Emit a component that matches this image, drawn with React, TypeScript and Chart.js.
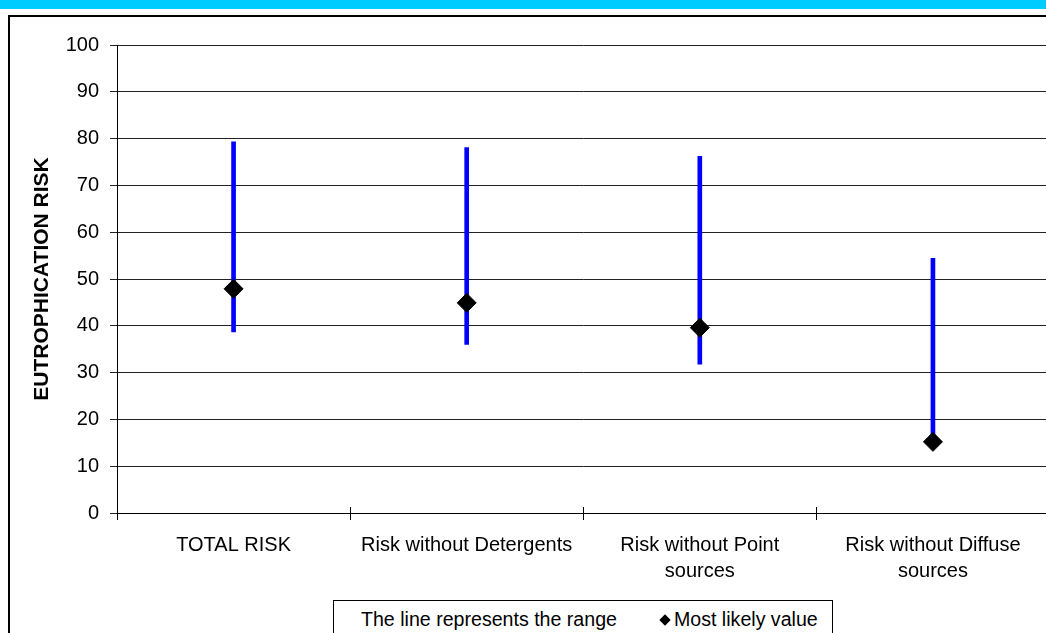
import React, { useEffect, useRef } from "react";
import { Chart, registerables } from "chart.js";

Chart.register(...registerables);

const categories: string[][] = [
  ["TOTAL RISK"],
  ["Risk without Detergents"],
  ["Risk without Point", "sources"],
  ["Risk without Diffuse", "sources"],
];
const rangeLow = [38.7, 36.0, 31.8, 15.2];
const rangeHigh = [79.3, 78.1, 76.2, 54.4];
const mostLikely = [47.9, 44.9, 39.6, 15.2];
const yTicks = [0, 10, 20, 30, 40, 50, 60, 70, 80, 90, 100];
const legendLabels = ["The line represents the range", "Most likely value"];

const FONT = "Arial, 'Liberation Sans', sans-serif";

const innerTicks = {
  id: "innerTicks",
  afterDraw(chart: any) {
    const x = chart.scales.x;
    const ctx = chart.ctx;
    const n = categories.length;
    ctx.save();
    ctx.strokeStyle = "#000";
    ctx.lineWidth = 1;
    for (let i = 0; i <= n; i++) {
      const px = Math.round(x.left + (i * x.width) / n) + 0.5;
      ctx.beginPath();
      ctx.moveTo(px, x.top - 6);
      ctx.lineTo(px, x.top);
      ctx.stroke();
    }
    ctx.restore();
  },
};

export default function App() {
  const ref = useRef<HTMLCanvasElement | null>(null);
  useEffect(() => {
    if (!ref.current) return;
    const chart = new Chart(ref.current, {
      data: {
        labels: categories,
        datasets: [
          {
            type: "line",
            label: legendLabels[1],
            data: mostLikely,
            showLine: false,
            pointStyle: "rectRot",
            pointRadius: 9.5,
            pointBackgroundColor: "#000",
            pointBorderColor: "#000",
            pointBorderWidth: 1,
            order: 1,
          } as any,
          {
            type: "bar",
            label: legendLabels[0],
            data: rangeLow.map((l, i) => [l, rangeHigh[i]]),
            backgroundColor: "#0000FF",
            borderWidth: 0,
            barThickness: 4,
            order: 2,
          } as any,
        ],
      },
      options: {
        animation: false,
        responsive: false,
        devicePixelRatio: 1,
        layout: { padding: { left: 26, top: 45, right: 10, bottom: 0 } },
        plugins: { legend: { display: false }, tooltip: { enabled: false } },
        scales: {
          x: {
            offset: true,
            grid: {
              offset: true,
              drawOnChartArea: false,
              drawTicks: true,
              tickLength: 7,
              color: "#000",
            },
            border: { display: true, color: "#000", width: 1 },
            ticks: {
              color: "#000",
              font: { family: FONT, size: 20, lineHeight: 1.3 },
              padding: 12,
              maxRotation: 0,
              autoSkip: false,
            },
            afterFit: (s: any) => {
              s.height = 120;
            },
          },
          y: {
            min: 0,
            max: 100,
            afterBuildTicks: (s: any) => {
              s.ticks = yTicks.map((v) => ({ value: v }));
            },
            grid: { color: "#222", tickLength: 7, drawTicks: true },
            border: { display: true, color: "#000", width: 1 },
            ticks: {
              color: "#000",
              font: { family: FONT, size: 20 },
              padding: 11,
            },
            title: {
              display: true,
              text: "EUTROPHICATION RISK",
              color: "#000",
              font: { family: FONT, size: 21, weight: "bold" },
              padding: { top: 4, bottom: 4 },
            },
            afterFit: (s: any) => {
              s.width = 91;
            },
          },
        },
      },
      plugins: [innerTicks],
    });
    return () => chart.destroy();
  }, []);

  return (
    <div
      style={{
        position: "fixed",
        left: 0,
        top: 0,
        width: 1046,
        height: 633,
        overflow: "hidden",
        background: "#fff",
      }}
    >
      <div
        style={{
          position: "absolute",
          left: 0,
          top: 0,
          width: 1046,
          height: 9,
          background: "#00CCFF",
        }}
      />
      <div
        style={{
          position: "absolute",
          left: 8,
          top: 15,
          width: 1100,
          height: 700,
          border: "2px solid #000",
          boxSizing: "border-box",
        }}
      />
      <canvas
        ref={ref}
        width={1060}
        height={633}
        style={{ position: "absolute", left: 0, top: 0, width: 1060, height: 633 }}
      />
      <div
        style={{
          position: "absolute",
          left: 333,
          top: 600,
          width: 500,
          height: 60,
          border: "1px solid #000",
          boxSizing: "border-box",
          background: "#fff",
          fontFamily: FONT,
          fontSize: 19.6,
          lineHeight: "23px",
          color: "#000",
          display: "flex",
          alignItems: "flex-start",
          paddingTop: 7,
          paddingLeft: 27,
          whiteSpace: "nowrap",
        }}
      >
        <span>{legendLabels[0]}</span>
        <span
          style={{
            display: "inline-block",
            width: 8,
            height: 8,
            background: "#000",
            transform: "rotate(45deg)",
            marginLeft: 44,
            marginRight: 5,
            marginTop: 8,
          }}
        />
        <span>{legendLabels[1]}</span>
      </div>
    </div>
  );
}
